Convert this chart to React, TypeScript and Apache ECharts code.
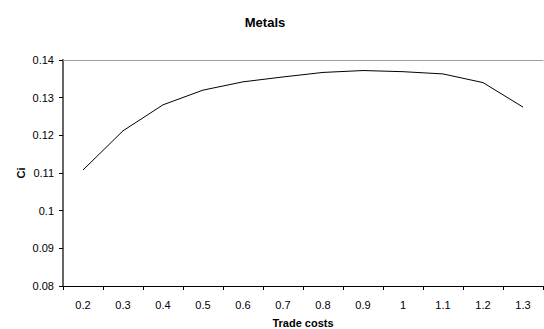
import React, { useEffect, useRef } from "react";
import * as echarts from "echarts";

const categories = ["0.2", "0.3", "0.4", "0.5", "0.6", "0.7", "0.8", "0.9", "1", "1.1", "1.2", "1.3"];
const ciValues = [0.1108, 0.1212, 0.1281, 0.132, 0.1342, 0.1355, 0.1367, 0.1372, 0.1369, 0.1363, 0.134, 0.1275];
const yTicks = { min: 0.08, max: 0.14, interval: 0.01 };

export default function App() {
  const ref = useRef<HTMLDivElement>(null);
  useEffect(() => {
    if (!ref.current) return;
    const chart = echarts.init(ref.current, undefined, { renderer: "svg" });
    const font = "Liberation Sans, Arial, sans-serif";
    chart.setOption({
      animation: false,
      backgroundColor: "#ffffff",
      graphic: [
        {
          type: "text",
          x: 265,
          y: 22,
          style: {
            text: "Metals",
            font: "bold 13px Liberation Sans, Arial, sans-serif",
            fill: "#000",
            textAlign: "center",
            textVerticalAlign: "middle",
          },
        },
      ],
      grid: { left: 63, right: 1, top: 60, bottom: 43, containLabel: false, outerBoundsMode: "none" },
      xAxis: [
        {
          type: "category",
          data: categories,
          boundaryGap: true,
          name: "Trade costs",
          nameLocation: "middle",
          nameGap: 31,
          nameMoveOverlap: false,
          nameTextStyle: { fontFamily: font, fontSize: 11, fontWeight: "bold", color: "#000" },
          axisLine: { lineStyle: { color: "#000", width: 1 } },
          axisTick: { show: true, length: 4, alignWithLabel: false, lineStyle: { color: "#000" } },
          axisLabel: { fontFamily: font, fontSize: 11, color: "#000", margin: 13, interval: 0 },
          splitLine: { show: false },
        },
        {
          type: "category",
          data: categories,
          position: "top",
          axisLine: { show: true, lineStyle: { color: "#a0a0a0", width: 1 } },
          axisTick: { show: false },
          axisLabel: { show: false },
          splitLine: { show: false },
        },
      ],
      yAxis: {
        type: "value",
        min: yTicks.min,
        max: yTicks.max,
        interval: yTicks.interval,
        name: "Ci",
        nameLocation: "middle",
        nameGap: 37,
        nameMoveOverlap: false,
        nameRotate: 90,
        nameTextStyle: { fontFamily: font, fontSize: 11, fontWeight: "bold", color: "#000" },
        axisLine: { show: true, lineStyle: { color: "#666", width: 2 } },
        axisTick: { show: true, length: 4, lineStyle: { color: "#000" } },
        axisLabel: {
          fontFamily: font,
          fontSize: 11,
          color: "#000",
          margin: 9,
          formatter: (v: number) => String(parseFloat(v.toFixed(2))),
        },
        splitLine: { show: false },
      },
      series: [
        {
          type: "line",
          data: ciValues,
          symbol: "none",
          lineStyle: { color: "#000", width: 1 },
        },
      ],
    });
    return () => chart.dispose();
  }, []);
  return (
    <div
      ref={ref}
      style={{ position: "fixed", left: 0, top: 0, width: 544, height: 329 }}
    />
  );
}
